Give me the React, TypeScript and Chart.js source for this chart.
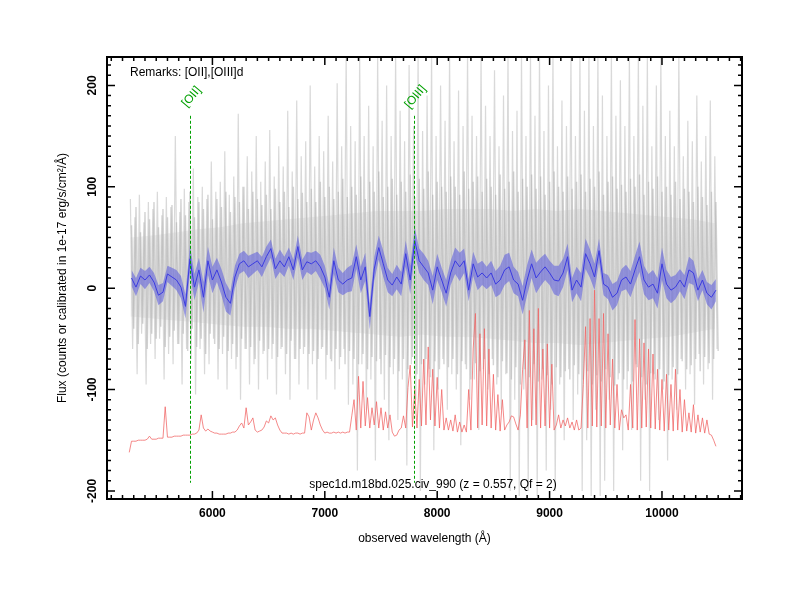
import React, { useEffect, useRef } from 'react';
import { Chart, registerables } from 'chart.js';

Chart.register(...registerables);

// ---- axes ----
const X_MIN = 5062;
const X_MAX = 10712;
const Y_MIN = -208;
const Y_MAX = 228;
const xTickValues = [6000, 7000, 8000, 9000, 10000];
const yTickValues = [-200, -100, 0, 100, 200];

// ---- smoothed spectrum (blue), 40 A steps from 5280 ----
const blueStart = 5280;
const blueStep = 40;
const blueFlux = [
  10, 1, 12, 8, 13, 6, -7, -4, 14, 11,
  8, 1, -18, 29, 1, 18, -9, 27, 8, 18,
  6, -9, -15, 11, 24, 27, 21, 24, 27, 21,
  31, 39, 19, 27, 21, 31, 18, 41, 18, 26,
  24, 27, 21, 11, -9, 27,
  8, 4, 8, 10, 31, 8, 21, -28, 19, 40,
  24, 8, 3, 11, 4, 34, 8, 47, 27, 21,
  15, -2, 21, 8, -5, 15, 27, 21, 27, -2,
  24, 11, 15, 10, 15, 4, 8, 18, 21, 8,
  4, -12, 8,
  24, 10, 16, 21, 15, 8, 7, 15, 31, -2,
  8, 1, 34, 24, 11, 37, 4, 1, -9, -5,
  8, 11, 4, 18, 31, 8, 1, 4, -5, 24,
  4, -2, 1, 8, 1, 18, 15, -2, 8, -5,
  -9, -2,
];
const blueErr = [
  8, 9, 8, 9, 8, 9, 10, 9, 8, 9,
  10, 11, 12, 14, 13, 12, 15, 14, 13, 12,
  13, 14, 12, 11, 10, 10, 11, 10, 9, 10,
  10, 9, 10, 11, 10, 9, 10, 11, 10, 10,
  11, 10, 12, 11, 12, 13, 12, 11, 12, 13,
  12, 13, 14, 13, 12, 12, 13, 12, 11, 12,
  12, 13, 14, 13, 12, 13, 12, 14, 13, 12,
  13, 12, 13, 14, 12, 11, 12, 13, 12, 11,
  12, 13, 14, 15, 14, 13, 12, 14, 15, 14,
  15, 14, 13, 12, 14, 15, 14, 13, 12, 13,
  14, 15, 14, 13, 12, 11, 12, 13, 12, 11,
  12, 13, 14, 15, 14, 13, 14, 15, 16, 14,
  13, 12, 11, 12, 13, 12, 11, 10, 11, 12,
  11,
];

// ---- raw spectrum (gray), series A: large spike tops / bottoms, 40 A steps ----
const grayAHiStart = 5270;
const grayALoStart = 5290;
const grayStep = 40;
const grayAHi = [
  88, 70, 92, 65, 85, 78, 95, 72, 90, 80,
  150, 75, 98, 85, 118, 90, 100, 88, 125, 95,
  105, 135, 92, 110, 172, 100, 130, 115, 150, 105,
  125, 156, 110, 140, 120, 175, 115, 185, 130, 145,
  200, 120, 150, 135, 170, 125, 202, 140, 230, 160,
  145, 230, 150, 180, 140, 230, 165, 200, 150, 230,
  175, 145, 220, 160, 230, 155, 190, 230, 150, 200,
  165, 230, 145, 195, 160, 230, 170, 150, 230, 180,
  150, 215, 140, 190, 230, 155, 175, 230, 150, 230,
  170, 230, 155, 200, 230, 140, 185, 160, 230, 150,
  230, 175, 230, 160, 230, 190, 150, 230, 170, 205,
  160, 230, 150, 230, 180, 230, 140, 200, 230, 150,
  175, 140, 230, 130, 165, 145, 190, 125, 150, 185,
  130,
];
const grayALo = [
  -60, -85, -45, -95, -55, -70, -50, -90, -65, -75,
  -55, -95, -60, -70, -105, -60, -85, -75, -50, -90,
  -65, -100, -70, -80, -110, -60, -95, -75, -100, -65,
  -90, -70, -105, -60, -85, -110, -70, -95, -65, -100,
  -75, -110, -60, -90, -70, -100, -80, -60, -115, -95,
  -180, -75, -120, -90, -170, -70, -110, -150, -85, -130,
  -90, -175, -75, -110, -200, -95, -80, -160, -100, -70,
  -120, -85, -100, -155, -75, -110, -90, -140, -80, -100,
  -70, -95, -120, -85, -200, -110, -205, -100, -200, -130,
  -205, -90, -180, -120, -200, -95, -150, -80, -130, -105,
  -200, -150, -205, -120, -205, -190, -110, -200, -90, -160,
  -100, -140, -75, -190, -110, -200, -85, -130, -100, -170,
  -90, -120, -70, -100, -85, -115, -65, -95, -80, -110,
  -60,
];
// series B: dense core noise, 40 A steps, offset by 10 A
const grayBHiStart = 5280;
const grayBLoStart = 5300;
const grayBHi = [
  62, 80, 55, 75, 68, 85, 60, 78, 70, 82,
  65, 88, 72, 95, 70, 85, 78, 92, 68, 88,
  80, 95, 75, 90, 85, 100, 78, 95, 88, 82,
  92, 78, 98, 85, 95, 80, 100, 88, 94, 85,
  98, 85, 105, 90, 100, 88, 95, 108, 90, 100,
  92, 110, 88, 105, 95, 115, 90, 100, 108, 92,
  105, 95, 112, 90, 108, 98, 115, 92, 105, 100,
  95, 110, 100, 92, 115, 98, 105, 110, 95, 108,
  100, 92, 112, 98, 105, 115, 95, 108, 100, 112,
  98, 110, 92, 105, 115, 100, 95, 110, 98, 105,
  112, 95, 108, 100, 115, 92, 105, 110, 98, 102,
  95, 108, 100, 112, 92, 105, 98, 110, 95, 100,
  92, 105, 88, 98, 95, 85, 100, 90, 82, 95,
  85,
];
const grayBLo = [
  -40, -55, -35, -60, -45, -50, -38, -58, -48, -42,
  -55, -45, -62, -40, -58, -50, -65, -45, -55, -60,
  -48, -62, -55, -68, -50, -60, -58, -70, -52, -62,
  -60, -55, -68, -58, -65, -52, -70, -60, -58, -65,
  -62, -70, -58, -66, -72, -60, -68, -75, -62, -70,
  -75, -65, -80, -68, -72, -85, -66, -78, -70, -82,
  -70, -80, -68, -85, -75, -70, -88, -72, -80, -75,
  -78, -70, -85, -72, -80, -90, -74, -82, -70, -85,
  -76, -88, -72, -84, -90, -78, -95, -80, -88, -75,
  -92, -80, -86, -95, -78, -88, -82, -90, -76, -85,
  -90, -82, -95, -86, -92, -80, -88, -96, -84, -90,
  -82, -92, -78, -88, -95, -84, -90, -80, -92, -86,
  -78, -85, -72, -80, -76, -70, -82, -68, -74, -70,
  -62,
];
// dense centre of the raw spectrum, 200 A steps
const coreStart = 5270;
const coreStep = 200;
const coreHi = [50, 52, 55, 58, 60, 64, 66, 68, 70, 72, 74, 76, 76, 76, 78, 78, 78, 76, 78, 76, 78, 76, 74, 72, 70, 68, 64];
const coreLo = [-28, -30, -32, -34, -36, -38, -38, -40, -40, -42, -44, -46, -48, -46, -48, -48, -50, -52, -54, -54, -56, -54, -52, -50, -48, -44, -40];

// ---- sky spectrum (red), 20 A steps from 5260 ----
const skyStart = 5260;
const skyStep = 20;
const skyFlux = [
  -162, -151, -151, -151, -150, -150, -150, -150, -149, -146,
  -149, -149, -149, -148, -148, -148, -117, -147, -147, -147,
  -146, -146, -146, -146, -145, -145, -145, -145, -144, -144,
  -143, -140, -125, -138, -141, -139, -141, -142, -143, -143,
  -144, -144, -144, -144, -143, -143, -142, -142, -140, -136,
  -133, -138, -118, -135, -132, -128, -140, -142, -141, -140,
  -137, -131, -133, -126, -130, -128, -135, -140, -143, -143,
  -143, -144, -143, -144, -143, -143, -144, -143, -143, -123,
  -127, -140, -130, -123, -128, -135, -140, -143, -142, -143,
  -143, -142, -143, -142, -143, -142, -143, -142, -142, -126,
  -110, -140, -87, -138, -92, -136, -108, -138, -118, -135,
  -112, -138, -118, -140, -122, -138, -125, -142, -146, -145,
  -140, -138, -126, -138, -98, -76, -137, -100, -138, -90,
  -136, -70, -135, -58, -130, -80, -136, -88, -138, -100,
  -140, -128, -140, -130, -141, -125, -142, -132, -142, -135,
  -142, -100, -140, -60, -25, -138, -45, -135, -40, -136,
  -60, -138, -85, -140, -105, -141, -110, -140, -135, -132,
  -126, -127, -134, -140, -125, -80, -51, -138, -22, -136,
  -40, -135, -20, -138, -60, -136, -55, -138, -75, -140,
  -135, -125, -138, -130, -136, -128, -138, -132, -140, -130,
  -140, -138, -95, -38, -138, -30, -136, -2, -137, -30,
  -136, -25, -138, -45, -135, -70, -138, -95, -140, -120,
  -128, -125, -140, -95, -138, -31, -140, -50, -138, -54,
  -137, -60, -138, -65, -139, -80, -140, -90, -141, -85,
  -140, -95, -141, -80, -140, -100, -142, -110, -141, -123,
  -142, -115, -143, -125, -142, -128, -143, -130, -144, -145,
  -150, -156,
];

// ---- emission line markers ----
const lineNames = ['[OII]', '[OIII]'];
const lineWaves = [5803, 7796];
const lineTop = 170;
const lineBottom = -192;

const remarksText = 'Remarks: [OII],[OIII]d';
const footerText = 'spec1d.m18bd.025.civ_990 (z = 0.557, Qf = 2)';
const xTitle = 'observed wavelength (Å)';
const yTitle = 'Flux (counts or calibrated in 1e-17 erg/s/cm²/Å)';

const FONT = '"Liberation Sans", Arial, Helvetica, sans-serif';

function zigzag(hi: number[], lo: number[], hiStart: number, loStart: number, step: number) {
  const pts: { x: number; y: number }[] = [];
  hi.forEach((h, i) => {
    pts.push({ x: hiStart + i * step, y: h });
    pts.push({ x: loStart + i * step, y: lo[i] });
  });
  return pts;
}

export default function App() {
  const ref = useRef<HTMLCanvasElement | null>(null);

  useEffect(() => {
    document.body.style.margin = '0';
    const canvas = ref.current;
    if (!canvas) return;

    const blueLine = blueFlux.map((y, i) => ({ x: blueStart + i * blueStep, y }));
    const blueHiPts = blueFlux.map((y, i) => ({ x: blueStart + i * blueStep, y: y + blueErr[i] }));
    const blueLoPts = blueFlux.map((y, i) => ({ x: blueStart + i * blueStep, y: y - blueErr[i] }));
    const grayAPts = zigzag(grayAHi, grayALo, grayAHiStart, grayALoStart, grayStep);
    const grayBPts = zigzag(grayBHi, grayBLo, grayBHiStart, grayBLoStart, grayStep);
    const coreHiPts = coreHi.map((y, i) => ({ x: coreStart + i * coreStep, y }));
    const coreLoPts = coreLo.map((y, i) => ({ x: coreStart + i * coreStep, y }));
    const skyPts = skyFlux.map((y, i) => ({ x: skyStart + i * skyStep, y }));

    const decor = {
      id: 'decor',
      afterDatasetsDraw(chart: any) {
        const { ctx, chartArea: a, scales } = chart;
        const xs = scales.x;
        const ys = scales.y;
        ctx.save();
        // emission lines
        ctx.strokeStyle = '#00a000';
        ctx.fillStyle = '#00a000';
        ctx.lineWidth = 1;
        ctx.setLineDash([3, 2]);
        lineWaves.forEach((w, i) => {
          const px = Math.round(xs.getPixelForValue(w)) + 0.5;
          const top = ys.getPixelForValue(lineTop);
          ctx.beginPath();
          ctx.moveTo(px, top);
          ctx.lineTo(px, ys.getPixelForValue(lineBottom));
          ctx.stroke();
          ctx.save();
          ctx.translate(px + 1, top - 19);
          ctx.rotate((-50 * Math.PI) / 180);
          ctx.font = '12px ' + FONT;
          ctx.textAlign = 'center';
          ctx.textBaseline = 'middle';
          ctx.fillText(lineNames[i], 0, 0);
          ctx.restore();
        });
        ctx.setLineDash([]);
        // texts
        ctx.fillStyle = '#000';
        ctx.font = '12px ' + FONT;
        ctx.textBaseline = 'middle';
        ctx.textAlign = 'left';
        ctx.fillText(remarksText, a.left + 23, a.top + 16);
        ctx.textAlign = 'center';
        ctx.fillText(footerText, a.left + 326, a.bottom - 14);
        // frame
        ctx.strokeStyle = '#000';
        ctx.lineWidth = 2;
        ctx.strokeRect(a.left, a.top, a.right - a.left, a.bottom - a.top);
        // ticks (inward, all sides)
        ctx.lineWidth = 1.5;
        ctx.beginPath();
        for (let v = 5100; v <= X_MAX; v += 100) {
          const px = xs.getPixelForValue(v);
          const len = v % 1000 === 0 ? 8 : 4;
          ctx.moveTo(px, a.bottom);
          ctx.lineTo(px, a.bottom - len);
          ctx.moveTo(px, a.top);
          ctx.lineTo(px, a.top + len);
        }
        for (let v = -200; v <= 220; v += 10) {
          const py = ys.getPixelForValue(v);
          const len = v % 100 === 0 ? 8 : 4;
          ctx.moveTo(a.left, py);
          ctx.lineTo(a.left + len, py);
          ctx.moveTo(a.right, py);
          ctx.lineTo(a.right - len, py);
        }
        ctx.stroke();
        ctx.restore();
      },
    };

    const chart = new Chart(canvas, {
      type: 'line',
      data: {
        datasets: [
          { data: blueLine, borderColor: '#3a3ae0', borderWidth: 1, pointRadius: 0, order: 1 } as any,
          { data: blueHiPts, borderWidth: 0, borderColor: 'rgba(0,0,0,0)', backgroundColor: 'rgba(90,90,222,0.55)', fill: '+1', pointRadius: 0, order: 2 },
          { data: blueLoPts, borderWidth: 0, borderColor: 'rgba(0,0,0,0)', pointRadius: 0, order: 2 },
          { data: skyPts, borderColor: 'rgba(240,100,100,0.85)', borderWidth: 0.9, pointRadius: 0, order: 3 },
          { data: coreHiPts, borderWidth: 0, borderColor: 'rgba(0,0,0,0)', backgroundColor: 'rgba(185,185,185,0.22)', fill: '+1', pointRadius: 0, order: 4 },
          { data: coreLoPts, borderWidth: 0, borderColor: 'rgba(0,0,0,0)', pointRadius: 0, order: 4 },
          { data: grayBPts, borderColor: 'rgba(170,170,170,0.5)', borderWidth: 1.4, pointRadius: 0, order: 5 },
          { data: grayAPts, borderColor: 'rgba(170,170,170,0.45)', borderWidth: 1.2, pointRadius: 0, order: 6 },
        ],
      },
      options: {
        responsive: false,
        animation: false,
        events: [],
        layout: { padding: { left: 0, top: 57, right: 58, bottom: 0 } },
        plugins: { legend: { display: false }, tooltip: { enabled: false } },
        elements: { line: { tension: 0 } },
        scales: {
          x: {
            type: 'linear',
            min: X_MIN,
            max: X_MAX,
            afterFit: (s: any) => { s.height = 101; },
            afterBuildTicks: (s: any) => { s.ticks = xTickValues.map((v) => ({ value: v })); },
            grid: { display: false, drawTicks: false },
            border: { display: false },
            ticks: {
              maxRotation: 0,
              minRotation: 0,
              autoSkip: false,
              padding: 7,
              color: '#000',
              font: { family: FONT, size: 12, weight: 'bold' },
              callback: (v: any) => String(v),
            },
            title: {
              display: true,
              text: xTitle,
              color: '#000',
              font: { family: FONT, size: 12 },
              padding: { top: 0, bottom: 54 },
            },
          },
          y: {
            type: 'linear',
            min: Y_MIN,
            max: Y_MAX,
            afterFit: (s: any) => { s.width = 107; },
            afterBuildTicks: (s: any) => { s.ticks = yTickValues.map((v) => ({ value: v })); },
            grid: { display: false, drawTicks: false },
            border: { display: false },
            ticks: {
              minRotation: 90,
              maxRotation: 90,
              autoSkip: false,
              crossAlign: 'center',
              padding: 2,
              color: '#000',
              font: { family: FONT, size: 12, weight: 'bold' },
              callback: (v: any) => String(v),
            },
            title: {
              display: true,
              text: yTitle,
              color: '#000',
              font: { family: FONT, size: 12 },
              padding: { top: 55, bottom: 0 },
            },
          },
        },
      } as any,
      plugins: [decor],
    });

    return () => chart.destroy();
  }, []);

  return (
    <div style={{ width: 800, height: 600, background: '#fff' }}>
      <canvas ref={ref} width={800} height={600} style={{ display: 'block' }} />
    </div>
  );
}
